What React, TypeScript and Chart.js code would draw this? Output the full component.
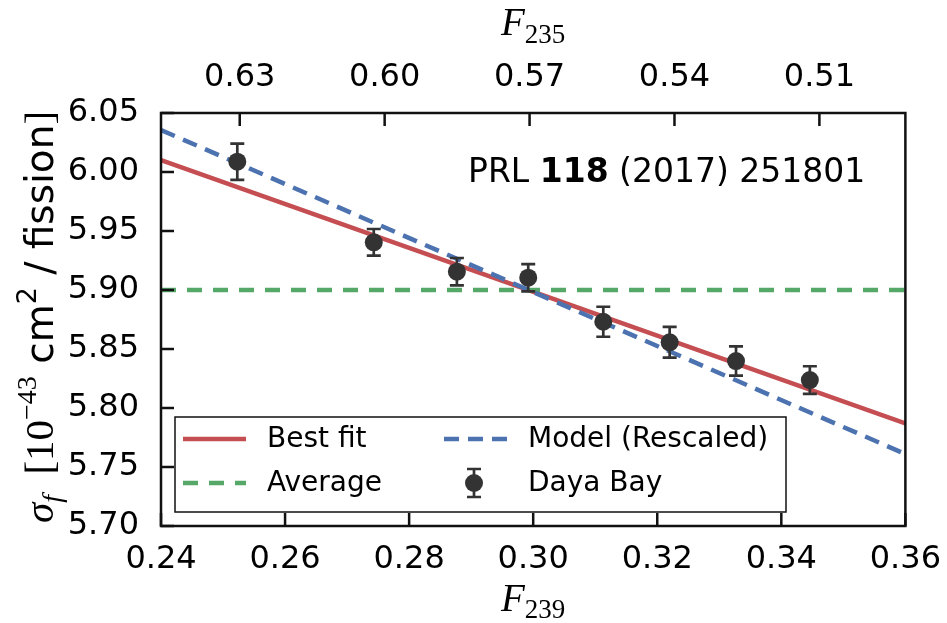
import React, { useEffect, useRef } from "react";
import { Chart, registerables } from "chart.js";

Chart.register(...registerables);

// ---------- data ----------
const F239_TICKS = [0.24, 0.26, 0.28, 0.3, 0.32, 0.34, 0.36];
const F235_TICKS = [0.63, 0.6, 0.57, 0.54, 0.51];
const SIGMA_TICKS = [5.7, 5.75, 5.8, 5.85, 5.9, 5.95, 6.0, 6.05];

// F235 value at the left / right edge of the F239 range (top axis mapping)
const F239_RANGE = [0.24, 0.36];
const F235_RANGE = [0.6463, 0.4922];

const dayaBayF239 = [0.2523, 0.2743, 0.2877, 0.2992, 0.3113, 0.322, 0.3327, 0.3446];
const dayaBaySigma = [6.0087, 5.9404, 5.9155, 5.9104, 5.8731, 5.8557, 5.8398, 5.8237];
const dayaBayErr = [0.0153, 0.0113, 0.0116, 0.0116, 0.0127, 0.013, 0.0124, 0.0117];

const lineF239 = [0.24, 0.36];
const bestFitSigma = [6.01, 5.787];
const modelSigma = [6.0356, 5.761];
const averageSigma = [5.9, 5.9];

const annotationParts = ["PRL ", "118", " (2017) 251801"];

// ---------- styles ----------
const RED = "#C44E52";
const BLUE = "#4C72B0";
const GREEN = "#55A868";
const DARK = "#333333";
const SANS = '"DejaVu Sans", sans-serif';
const SERIF = '"Liberation Serif", serif';

type Piece = { t: string; font: string; dy?: number };

function drawRich(ctx: CanvasRenderingContext2D, pieces: Piece[], cx: number, y: number) {
  let total = 0;
  const widths = pieces.map((p) => {
    ctx.font = p.font;
    const w = ctx.measureText(p.t).width;
    total += w;
    return w;
  });
  let x = cx - total / 2;
  ctx.textAlign = "left";
  ctx.textBaseline = "alphabetic";
  pieces.forEach((p, i) => {
    ctx.font = p.font;
    ctx.fillText(p.t, x, y + (p.dy || 0));
    x += widths[i];
  });
}

const customPlugin = {
  id: "custom",
  beforeDatasetDraw(chart: any, args: any) {
    if (args.index !== 3) return;
    const { ctx, chartArea } = chart;
    const xs = chart.scales.x;
    const ys = chart.scales.y;
    ctx.save();
    ctx.beginPath();
    ctx.rect(chartArea.left, chartArea.top, chartArea.right - chartArea.left, chartArea.bottom - chartArea.top);
    ctx.clip();
    ctx.strokeStyle = DARK;
    ctx.lineWidth = 2.7;
    dayaBayF239.forEach((fx, i) => {
      const px = xs.getPixelForValue(fx);
      const t = ys.getPixelForValue(dayaBaySigma[i] + dayaBayErr[i]);
      const b = ys.getPixelForValue(dayaBaySigma[i] - dayaBayErr[i]);
      ctx.beginPath();
      ctx.moveTo(px, t);
      ctx.lineTo(px, b);
      ctx.moveTo(px - 7, t);
      ctx.lineTo(px + 7, t);
      ctx.moveTo(px - 7, b);
      ctx.lineTo(px + 7, b);
      ctx.stroke();
    });
    ctx.restore();
  },
  afterDatasetsDraw(chart: any) {
    const { ctx, chartArea } = chart;
    const ds = chart.data.datasets;
    ctx.save();
    // annotation
    ctx.fillStyle = "#000";
    ctx.textBaseline = "alphabetic";
    ctx.textAlign = "left";
    let x = chartArea.left + 307;
    const fonts = [`33px ${SANS}`, `bold 33px ${SANS}`, `33px ${SANS}`];
    annotationParts.forEach((p, i) => {
      ctx.font = fonts[i];
      ctx.fillText(p, x, chartArea.top + 69);
      x += ctx.measureText(p).width;
    });

    // legend
    const lx = chartArea.left + 14;
    const ly = chartArea.bottom - 109;
    const lw = 611;
    const lh = 95;
    ctx.fillStyle = "#fff";
    ctx.fillRect(lx, ly, lw, lh);
    ctx.strokeStyle = "#111";
    ctx.lineWidth = 1.5;
    ctx.strokeRect(lx, ly, lw, lh);
    const rows = [ly + 22, ly + 66];
    const cols = [lx + 8, lx + 269];
    const order = [0, 2, 1, 3];
    order.forEach((di, k) => {
      const d = ds[di];
      const col = cols[Math.floor(k / 2)];
      const row = rows[k % 2];
      if (d.type === "line") {
        ctx.strokeStyle = d.borderColor;
        ctx.lineWidth = d.borderWidth;
        ctx.setLineDash(d.borderDash || []);
        ctx.beginPath();
        ctx.moveTo(col, row);
        ctx.lineTo(col + 63, row);
        ctx.stroke();
        ctx.setLineDash([]);
      } else {
        const cx = col + 30;
        ctx.strokeStyle = DARK;
        ctx.lineWidth = 2.7;
        ctx.beginPath();
        ctx.moveTo(cx, row - 14);
        ctx.lineTo(cx, row + 14);
        ctx.moveTo(cx - 7, row - 14);
        ctx.lineTo(cx + 7, row - 14);
        ctx.moveTo(cx - 7, row + 14);
        ctx.lineTo(cx + 7, row + 14);
        ctx.stroke();
        ctx.fillStyle = DARK;
        ctx.beginPath();
        ctx.arc(cx, row, 9, 0, Math.PI * 2);
        ctx.fill();
      }
      ctx.fillStyle = "#000";
      ctx.font = `28px ${SANS}`;
      ctx.textAlign = "left";
      ctx.textBaseline = "middle";
      ctx.fillText(d.label, col + 84, row + 1);
    });
    ctx.restore();
  },
  afterDraw(chart: any) {
    const { ctx, chartArea } = chart;
    const { left, right, top, bottom } = chartArea;
    const xs = chart.scales.x;
    const x2 = chart.scales.x2;
    const ys = chart.scales.y;
    ctx.save();
    ctx.strokeStyle = "#111";
    ctx.lineWidth = 2.5;
    ctx.strokeRect(left, top, right - left, bottom - top);
    const TL = 13;
    ctx.beginPath();
    F239_TICKS.forEach((v) => {
      const p = xs.getPixelForValue(v);
      ctx.moveTo(p, bottom);
      ctx.lineTo(p, bottom - TL);
    });
    F235_TICKS.forEach((v) => {
      const p = x2.getPixelForValue(v);
      ctx.moveTo(p, top);
      ctx.lineTo(p, top + TL);
    });
    SIGMA_TICKS.forEach((v) => {
      const p = ys.getPixelForValue(v);
      ctx.moveTo(left, p);
      ctx.lineTo(left + TL, p);
    });
    ctx.stroke();

    // axis titles
    ctx.fillStyle = "#000";
    const cx = (left + right) / 2;
    drawRich(
      ctx,
      [
        { t: "F", font: `italic 39px ${SERIF}` },
        { t: "235", font: `27px ${SERIF}`, dy: 8 },
      ],
      cx,
      35
    );
    drawRich(
      ctx,
      [
        { t: "F", font: `italic 39px ${SERIF}` },
        { t: "239", font: `27px ${SERIF}`, dy: 7 },
      ],
      cx,
      611
    );
    ctx.save();
    ctx.translate(53, 317);
    ctx.rotate(-Math.PI / 2);
    drawRich(
      ctx,
      [
        { t: "σ", font: `italic 41px ${SERIF}` },
        { t: "f", font: `italic 28px ${SERIF}`, dy: 8 },
        { t: "  [10", font: `41px ${SERIF}` },
        { t: "−43", font: `28px ${SERIF}`, dy: -17 },
        { t: " cm", font: `39px ${SANS}` },
        { t: "2", font: `27px ${SANS}`, dy: -17 },
        { t: " / fission", font: `39px ${SANS}` },
        { t: "]", font: `41px ${SERIF}` },
      ],
      0,
      0
    );
    ctx.restore();
    ctx.restore();
  },
};

export default function App() {
  const ref = useRef<HTMLCanvasElement>(null);
  useEffect(() => {
    document.body.style.margin = "0";
    const tickFont = { family: SANS, size: 32 };
    const chart = new Chart(ref.current as HTMLCanvasElement, {
      type: "scatter",
      data: {
        datasets: [
          {
            type: "line",
            label: "Best fit",
            data: lineF239.map((x, i) => ({ x, y: bestFitSigma[i] })),
            borderColor: RED,
            borderWidth: 4.5,
            pointRadius: 0,
            order: 3,
          },
          {
            type: "line",
            label: "Model (Rescaled)",
            data: lineF239.map((x, i) => ({ x, y: modelSigma[i] })),
            borderColor: BLUE,
            borderWidth: 4.5,
            borderDash: [15, 9],
            pointRadius: 0,
            order: 1,
          },
          {
            type: "line",
            label: "Average",
            data: lineF239.map((x, i) => ({ x, y: averageSigma[i] })),
            borderColor: GREEN,
            borderWidth: 4.5,
            borderDash: [15, 11],
            pointRadius: 0,
            order: 2,
          },
          {
            type: "scatter",
            label: "Daya Bay",
            data: dayaBayF239.map((x, i) => ({ x, y: dayaBaySigma[i] })),
            backgroundColor: DARK,
            borderWidth: 0,
            pointRadius: 9,
            order: 0,
          },
        ] as any,
      },
      options: {
        animation: false,
        responsive: true,
        maintainAspectRatio: false,
        layout: { padding: { left: 0, right: 40, top: 0, bottom: 0 } },
        plugins: { legend: { display: false }, tooltip: { enabled: false } },
        scales: {
          x: {
            type: "linear",
            position: "bottom",
            min: F239_RANGE[0],
            max: F239_RANGE[1],
            grid: { display: false },
            border: { display: false },
            afterBuildTicks: (s: any) => {
              s.ticks = F239_TICKS.map((v) => ({ value: v }));
            },
            afterFit: (s: any) => {
              s.height = 97;
            },
            ticks: {
              font: tickFont,
              color: "#000",
              padding: 6,
              maxRotation: 0,
              autoSkip: false,
              callback: (v: any) => Number(v).toFixed(2),
            },
          },
          x2: {
            type: "linear",
            position: "top",
            reverse: true,
            min: F235_RANGE[1],
            max: F235_RANGE[0],
            grid: { display: false },
            border: { display: false },
            afterBuildTicks: (s: any) => {
              s.ticks = F235_TICKS.map((v) => ({ value: v }));
            },
            afterFit: (s: any) => {
              s.height = 113;
            },
            ticks: {
              font: tickFont,
              color: "#000",
              padding: 8,
              maxRotation: 0,
              autoSkip: false,
              callback: (v: any) => Number(v).toFixed(2),
            },
          },
          y: {
            type: "linear",
            position: "left",
            min: SIGMA_TICKS[0],
            max: SIGMA_TICKS[SIGMA_TICKS.length - 1],
            grid: { display: false },
            border: { display: false },
            afterBuildTicks: (s: any) => {
              s.ticks = SIGMA_TICKS.map((v) => ({ value: v }));
            },
            afterFit: (s: any) => {
              s.width = 161;
            },
            ticks: {
              font: tickFont,
              color: "#000",
              padding: 14,
              autoSkip: false,
              callback: (v: any) => Number(v).toFixed(2),
            },
          },
        },
      } as any,
      plugins: [customPlugin],
    });
    return () => chart.destroy();
  }, []);
  return (
    <div style={{ width: 947, height: 623, position: "relative" }}>
      <canvas ref={ref} />
    </div>
  );
}
